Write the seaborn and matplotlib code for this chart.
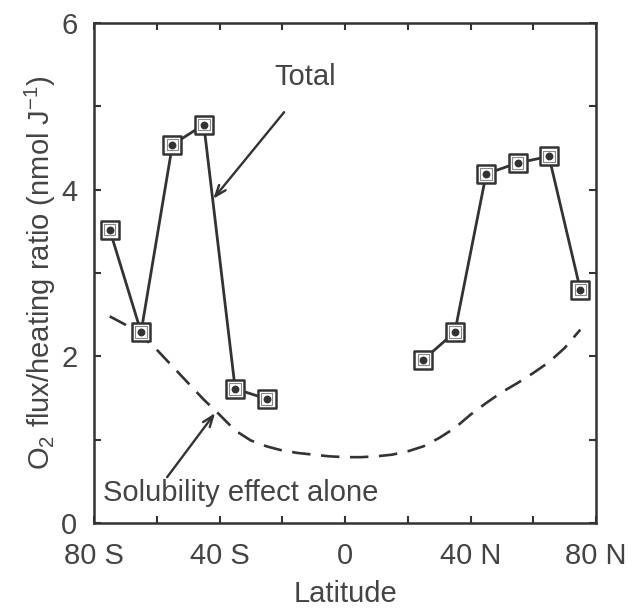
import matplotlib
matplotlib.use("Agg")
import matplotlib.pyplot as plt
import seaborn as sns
import pandas as pd

# Total O2 flux / heating ratio (two observed segments)
lat_south = [-75, -65, -55, -45, -35, -25]
total_south = [3.52, 2.29, 4.54, 4.78, 1.61, 1.49]
lat_north = [25, 35, 45, 55, 65, 75]
total_north = [1.96, 2.29, 4.19, 4.32, 4.40, 2.80]

# Solubility effect alone (dashed)
lat_sol = [-75, -70, -65, -60, -55, -50, -45, -40, -35, -30, -25, -20, -15, -10, -5,
           0, 5, 10, 15, 20, 25, 30, 35, 40, 45, 50, 55, 60, 65, 70, 75]
sol = [2.48, 2.38, 2.25, 2.08, 1.88, 1.68, 1.48, 1.30, 1.11, 0.99, 0.92, 0.87, 0.84, 0.82, 0.80,
       0.79, 0.79, 0.80, 0.82, 0.86, 0.92, 1.02, 1.14, 1.30, 1.44, 1.57, 1.68, 1.80, 1.93, 2.10, 2.32]

x_ticks = [-80, -60, -40, -20, 0, 20, 40, 60, 80]
x_labels = ["80 S", "", "40 S", "", "0", "", "40 N", "", "80 N"]
y_ticks = [0, 1, 2, 3, 4, 5, 6]
y_labels = ["0", "", "2", "", "4", "", "6"]

sns.set_style("ticks")
plt.rcParams["font.family"] = ["Liberation Sans", "DejaVu Sans"]
plt.rcParams["mathtext.default"] = "regular"

C = "#333333"
TC = "#444444"
FS = 21

fig = plt.figure(figsize=(6.37, 6.08), dpi=100)
ax = fig.add_axes([94 / 637, 85 / 608, (596 - 94) / 637, (523 - 23) / 608])

df_s = pd.DataFrame({"lat": lat_south, "val": total_south})
df_n = pd.DataFrame({"lat": lat_north, "val": total_north})
df_sol = pd.DataFrame({"lat": lat_sol, "val": sol})

sns.lineplot(data=df_sol, x="lat", y="val", ax=ax, color=C, lw=1.9,
             linestyle=(0, (7, 4)))
for d in (df_s, df_n):
    sns.lineplot(data=d, x="lat", y="val", ax=ax, color=C, lw=2.0)
    sns.scatterplot(data=d, x="lat", y="val", ax=ax, marker="s", s=160,
                    facecolor="white", edgecolor=C, linewidth=1.8, zorder=3)
    sns.scatterplot(data=d, x="lat", y="val", ax=ax, marker="s", s=70,
                    facecolor="none", edgecolor="#888888", linewidth=0.8, zorder=3)
    sns.scatterplot(data=d, x="lat", y="val", ax=ax, marker="o", s=32,
                    color=C, linewidth=0, zorder=4)

ax.set_xlim(-80, 80)
ax.set_ylim(0, 6)
ax.set_xticks(x_ticks)
ax.set_xticklabels(x_labels)
ax.set_yticks(y_ticks)
ax.set_yticklabels(y_labels)
ax.tick_params(direction="in", top=True, right=True, length=5, width=1.5,
               color=C, labelsize=FS, labelcolor=TC)
ax.tick_params(axis="x", pad=14)
ax.tick_params(axis="y", pad=12)
for sp in ax.spines.values():
    sp.set_color(C)
    sp.set_linewidth(1.8)

ax.set_xlabel("Latitude", fontsize=FS, color=TC, labelpad=7)
ax.set_ylabel("O$_2$ flux/heating ratio (nmol J$^{-1}$)", fontsize=FS, color=TC, labelpad=2)

ax.text(-12.7, 5.35, "Total", fontsize=FS, color=TC, ha="center", va="center")
ax.annotate("", xy=(-42, 3.89), xytext=(-19.4, 4.93),
            arrowprops=dict(arrowstyle="->,head_length=0.8,head_width=0.3", lw=1.7, color=C,
                            shrinkA=0, shrinkB=0))
ax.text(-77, 0.36, "Solubility effect alone", fontsize=FS, color=TC, ha="left", va="center")
ax.annotate("", xy=(-41.4, 1.32), xytext=(-56.7, 0.55),
            arrowprops=dict(arrowstyle="->,head_length=0.8,head_width=0.3", lw=1.7, color=C,
                            shrinkA=0, shrinkB=0))

fig.savefig("out.png", dpi=100)
